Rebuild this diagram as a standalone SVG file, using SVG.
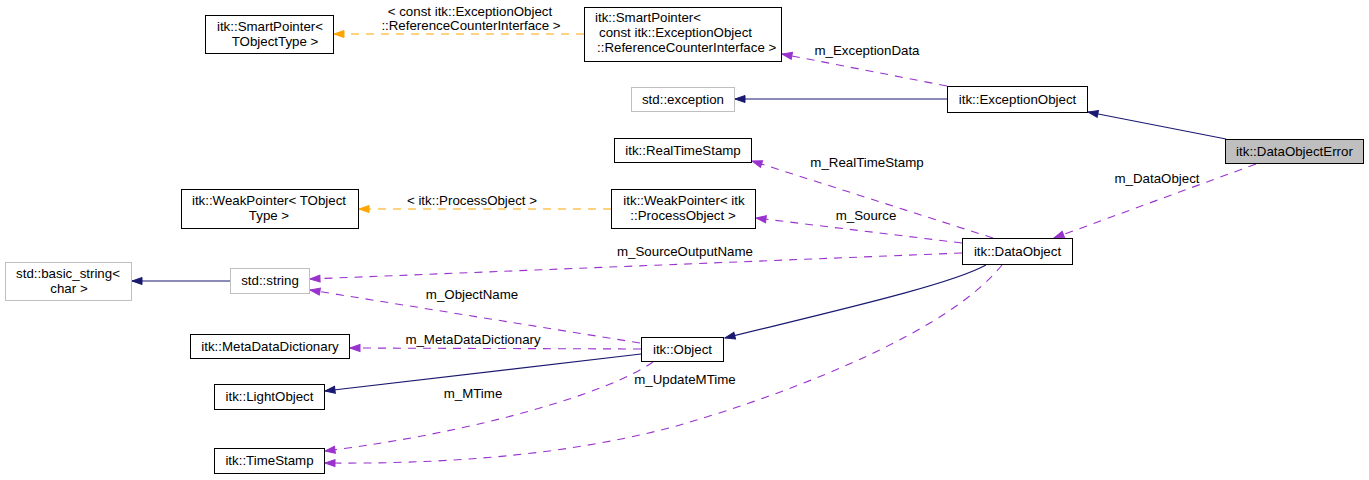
<svg xmlns="http://www.w3.org/2000/svg" width="1369" height="480" viewBox="0 0 1369 480">
<style>
text{font-family:"Liberation Sans",Arial,sans-serif;font-size:13.3px;fill:#000}
.c{text-anchor:middle}
.s{text-anchor:start}
.b{fill:#fff;stroke:#000;stroke-width:1}
.g{fill:#fff;stroke:#bfbfbf;stroke-width:1}
.h{fill:#bfbfbf;stroke:#000;stroke-width:1}
.p{fill:none;stroke:#9a32cd;stroke-width:1.1;stroke-dasharray:8,7}
.o{fill:none;stroke:#ffa500;stroke-width:1.1;stroke-dasharray:8,7}
.n{fill:none;stroke:#191970;stroke-width:1.1}
</style>
<defs>
<marker id="ap" markerWidth="12" markerHeight="10" refX="11" refY="5" orient="auto" markerUnits="userSpaceOnUse"><path d="M1,1.5 L11,5 L1,8.5 z" fill="#9a32cd" stroke="#9a32cd"/></marker>
<marker id="ao" markerWidth="12" markerHeight="10" refX="11" refY="5" orient="auto" markerUnits="userSpaceOnUse"><path d="M1,1.5 L11,5 L1,8.5 z" fill="#ffa500" stroke="#ffa500"/></marker>
<marker id="an" markerWidth="12" markerHeight="10" refX="11" refY="5" orient="auto" markerUnits="userSpaceOnUse"><path d="M1,1.5 L11,5 L1,8.5 z" fill="#191970" stroke="#191970"/></marker>
</defs>
<g id="edges">
<path class="o" d="M584,34 L334,34" marker-end="url(#ao)"/>
<text class="c" x="470" y="16">&lt; const itk::ExceptionObject</text>
<text class="c" x="471" y="30">::ReferenceCounterInterface &gt;</text>
<path class="p" d="M947,86 L782,54" marker-end="url(#ap)"/>
<text class="c" x="867" y="55">m_ExceptionData</text>
<path class="n" d="M947,99 L735,99" marker-end="url(#an)"/>
<path class="n" d="M1226,139 L1088,112" marker-end="url(#an)"/>
<path class="p" d="M1256,164 L1054,238" marker-end="url(#ap)"/>
<text class="c" x="1157" y="183">m_DataObject</text>
<path class="p" d="M993,238 L752,161" marker-end="url(#ap)"/>
<text class="c" x="867" y="167">m_RealTimeStamp</text>
<path class="p" d="M962,243 L756,218" marker-end="url(#ap)"/>
<text class="c" x="866" y="220">m_Source</text>
<path class="o" d="M611,209 L359,209" marker-end="url(#ao)"/>
<text class="c" x="472" y="205">&lt; itk::ProcessObject &gt;</text>
<path class="p" d="M962,253 L310,279" marker-end="url(#ap)"/>
<text class="c" x="685" y="256">m_SourceOutputName</text>
<path class="n" d="M230,281 L132,281" marker-end="url(#an)"/>
<path class="n" d="M986,265 C950,285 830,312 725,338" marker-end="url(#an)"/>
<path class="p" d="M640,343 L310,290" marker-end="url(#ap)"/>
<text class="c" x="472" y="299">m_ObjectName</text>
<path class="p" d="M641,349 L350,348" marker-end="url(#ap)"/>
<text class="c" x="473" y="344">m_MetaDataDictionary</text>
<path class="n" d="M641,354 L325,391" marker-end="url(#an)"/>
<path class="p" d="M653,362 C610,392 480,432 325,451" marker-end="url(#ap)"/>
<text class="c" x="473" y="398">m_MTime</text>
<path class="p" d="M1002,265 C950,330 800,390 680,425 C560,458 430,464 325,463" marker-end="url(#ap)"/>
<text class="c" x="685" y="384">m_UpdateMTime</text>
</g>
<g id="n_sp_t"><rect class="b" x="205.5" y="15.5" width="128" height="38"/><text class="c" x="270" y="31">itk::SmartPointer&lt;</text><text class="c" x="275" y="46">TObjectType &gt;</text></g>
<g id="n_sp_c"><rect class="b" x="584.5" y="7.5" width="197" height="54"/><text class="s" x="595" y="22">itk::SmartPointer&lt;</text><text class="s" x="599" y="37">const itk::ExceptionObject</text><text class="s" x="597" y="52">::ReferenceCounterInterface &gt;</text></g>
<g id="n_stdexc"><rect class="g" x="631.5" y="87.5" width="103" height="24"/><text class="c" x="683" y="104">std::exception</text></g>
<g id="n_exc"><rect class="b" x="947.5" y="86.5" width="140" height="26"/><text class="c" x="1017.5" y="104">itk::ExceptionObject</text></g>
<g id="n_doe"><rect class="h" x="1225.5" y="139.5" width="138" height="24"/><text class="c" x="1294.5" y="156">itk::DataObjectError</text></g>
<g id="n_rts"><rect class="b" x="614.5" y="138.5" width="137" height="24"/><text class="c" x="683" y="155">itk::RealTimeStamp</text></g>
<g id="n_wp_po"><rect class="b" x="611.5" y="189.5" width="144" height="39"/><text class="c" x="684" y="205">itk::WeakPointer&lt; itk</text><text class="c" x="683" y="220">::ProcessObject &gt;</text></g>
<g id="n_do"><rect class="b" x="962.5" y="238.5" width="110" height="26"/><text class="c" x="1017.5" y="256">itk::DataObject</text></g>
<g id="n_wp_t"><rect class="b" x="181.5" y="189.5" width="177" height="39"/><text class="c" x="269" y="205">itk::WeakPointer&lt; TObject</text><text class="c" x="269" y="220">Type &gt;</text></g>
<g id="n_bstr"><rect class="g" x="5.5" y="262.5" width="126" height="38"/><text class="c" x="68" y="278">std::basic_string&lt;</text><text class="c" x="69" y="293">char &gt;</text></g>
<g id="n_str"><rect class="g" x="230.5" y="268.5" width="79" height="25"/><text class="c" x="270" y="285">std::string</text></g>
<g id="n_mdd"><rect class="b" x="190.5" y="334.5" width="159" height="24"/><text class="c" x="270" y="351">itk::MetaDataDictionary</text></g>
<g id="n_obj"><rect class="b" x="641.5" y="337.5" width="82" height="24"/><text class="c" x="682.5" y="354">itk::Object</text></g>
<g id="n_lo"><rect class="b" x="214.5" y="384.5" width="110" height="25"/><text class="c" x="269.5" y="401">itk::LightObject</text></g>
<g id="n_ts"><rect class="b" x="214.5" y="448.5" width="110" height="25"/><text class="c" x="269.5" y="465">itk::TimeStamp</text></g>
</svg>
